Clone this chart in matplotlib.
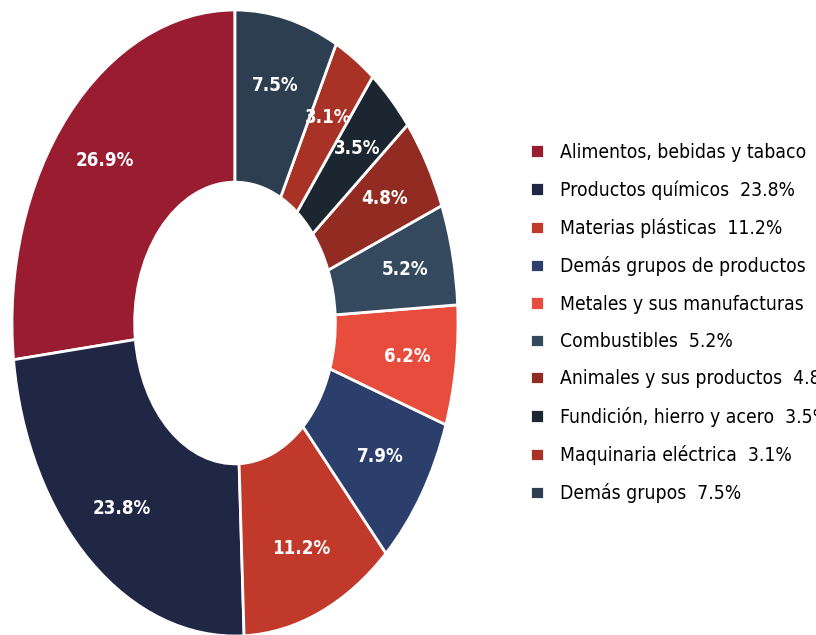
import matplotlib.pyplot as plt
from matplotlib import font_manager as fm
from matplotlib.font_manager import FontProperties

# data
labels = ['Alimentos, bebidas y tabaco', 'Productos químicos', 'Materias plásticas',
          'Demás grupos de productos', 'Metales y sus manufacturas', 'Combustibles',
          'Animales y sus productos', 'Fundición, hierro y acero', 'Maquinaria eléctrica',
          'Demás grupos']
shares = [26.9, 23.8, 11.2, 7.9, 6.2, 5.2, 4.8, 3.5, 3.1, 7.5]
colors = ['#991C30', '#1F2744', '#C0392B', '#2C3E6B', '#E74C3C',
          '#34495E', '#922B21', '#1B2631', '#A93226', '#2C3E50']

# condensed DejaVu if the system has it
files = {f.fname.split('/')[-1]: f.fname for f in fm.fontManager.ttflist}
reg = files.get('DejaVuSansCondensed.ttf')
bld = files.get('DejaVuSansCondensed-Bold.ttf')
if reg and bld:
    font = FontProperties(fname=reg, size=13.9)
    bold = FontProperties(fname=bld, size=13.4)
else:
    font = FontProperties(family='DejaVu Sans', size=13)
    bold = FontProperties(family='DejaVu Sans', weight='bold', size=12.5)

fig = plt.figure(figsize=(8.16, 6.35), dpi=100)
ax = fig.add_axes([12/816, -1/635, 446/816, 626/635])

wedges, texts, autotexts = ax.pie(shares, colors=colors, startangle=90, counterclock=True,
                                  autopct='%.1f%%', pctdistance=0.78,
                                  wedgeprops=dict(width=0.55, edgecolor='white', linewidth=2))
for t in autotexts:
    t.set_fontproperties(bold)
    t.set_color('white')
ax.set_aspect('auto')
ax.set_xlim(-1, 1)
ax.set_ylim(-1, 1)

leg_labels = ['%s  %.1f%%' % (l, s) for l, s in zip(labels, shares)]
fig.legend(wedges, leg_labels, loc='center left', bbox_to_anchor=(513/816, 0.491),
           frameon=False, prop=font, handlelength=0.7, handleheight=0.7,
           labelspacing=0.95, handletextpad=0.85)

plt.savefig('out.png', dpi=100)
